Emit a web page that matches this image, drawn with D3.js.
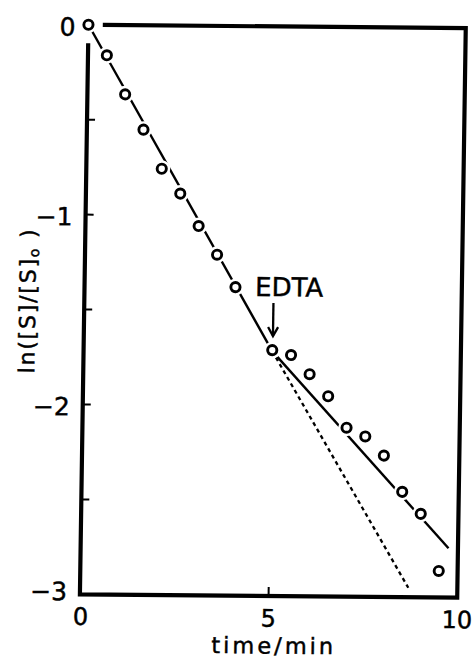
<!DOCTYPE html>
<html>
<head>
<meta charset="utf-8">
<script src="https://cdn.jsdelivr.net/npm/d3@7"></script>
<style>
  html, body { margin: 0; padding: 0; background: #fff; }
  svg { display: block; }
  text { font-family: "DejaVu Sans", sans-serif; fill: #000; stroke: #000; stroke-width: 0.45px; }
</style>
</head>
<body>
<svg id="chart" width="473" height="659"></svg>
<script>
// ---- data ----
const times = [0, 0.5, 1, 1.5, 2, 2.5, 3, 3.5, 4, 5, 5.5, 6, 6.5, 7, 7.5, 8, 8.5, 9, 9.5];
const lnRatio = [0, -0.16, -0.365, -0.55, -0.755, -0.885, -1.055, -1.205, -1.375,
                 -1.705, -1.73, -1.83, -1.945, -2.11, -2.155, -2.255, -2.445, -2.56, -2.86];
const fitBeforeT = [0, 5];
const fitBeforeV = [0, -1.71];
const fitAfterT = [5, 9.75];
const fitAfterV = [-1.71, -2.74];
const extrapT = [5, 8.7];
const extrapV = [-1.71, -2.95];
const xTickValues = [0, 5, 10];
const xInnerTicks = [5];
const yTickValues = [0, -1, -2, -3];
const yInnerTicks = [-0.5, -1, -1.5, -2, -2.5];
const annotationLabel = "EDTA";
const annotationTime = 5;
const annotationValue = -1.71;
const xTitle = "time/min";

// ---- layout ----
const svg = d3.select("#chart");
const x = d3.scaleLinear().domain([0, 10]).range([84.2, 461.5]);
const y = d3.scaleLinear().domain([0, -3]).range([26.4, 596]);

// the scanned original is slightly skewed; reproduce with a small affine transform
const g = svg.append("g").attr("transform", "matrix(1,0.009,-0.015,1,4.65,-2.43)");

const line = d3.line().x(d => x(d[0])).y(d => y(d[1]));
const zip = (a, b) => a.map((v, i) => [v, b[i]]);

// frame (broken at the top-left corner around the first point)
const frame = d3.path();
frame.moveTo(x(0.38), y(0));
frame.lineTo(x(10), y(0));
frame.lineTo(x(10), y(-3));
frame.lineTo(x(0), y(-3));
frame.lineTo(x(0), y(-0.097));
g.append("path").attr("d", frame.toString())
  .attr("fill", "none").attr("stroke", "#000").attr("stroke-width", 4.2)
  .attr("stroke-linejoin", "miter");

// inner ticks
g.selectAll(".ytick").data(yInnerTicks).enter().append("line")
  .attr("x1", x(0)).attr("x2", x(0) + 8)
  .attr("y1", d => y(d)).attr("y2", d => y(d))
  .attr("stroke", "#000").attr("stroke-width", 2);
g.selectAll(".xtick").data(xInnerTicks).enter().append("line")
  .attr("x1", d => x(d)).attr("x2", d => x(d))
  .attr("y1", y(-3)).attr("y2", y(-3) - 9)
  .attr("stroke", "#000").attr("stroke-width", 2);

// tick labels
const fmt = v => (v < 0 ? "\u2212" + Math.abs(v) : String(v));
g.selectAll(".ylab").data(yTickValues).enter().append("text")
  .attr("x", x(0) - 13)
  .attr("y", d => Math.min(y(d) + 2, y(-3) - 3))
  .attr("dy", "0.36em")
  .attr("text-anchor", "end")
  .attr("font-size", 25)
  .text(fmt);
g.selectAll(".xlab").data(xTickValues).enter().append("text")
  .attr("x", d => x(d) + (d === 0 ? 1 : 0))
  .attr("y", y(-3) + 30.5)
  .attr("text-anchor", "middle")
  .attr("font-size", 24)
  .text(fmt);

// axis titles
g.append("text")
  .attr("x", (x(0) + x(10)) / 2 + 6)
  .attr("y", 653.5)
  .attr("text-anchor", "middle")
  .attr("font-size", 22.5)
  .attr("letter-spacing", 3)
  .text(xTitle);

const yt = g.append("text")
  .attr("transform", `translate(${x(0) - 49},${(y(-1.4) + y(-1.5)) / 2 + 1}) rotate(-90)`)
  .attr("text-anchor", "middle")
  .attr("font-size", 22)
  .attr("letter-spacing", 1.8);
yt.append("tspan").text("ln([S]/[S]");
yt.append("tspan").attr("font-size", 14).attr("dy", 3).text("o");
yt.append("tspan").attr("dy", -3).text(" )");

// fitted lines
g.append("path").attr("d", line(zip(fitBeforeT, fitBeforeV)))
  .attr("fill", "none").attr("stroke", "#000").attr("stroke-width", 2.4);
g.append("path").attr("d", line(zip(fitAfterT, fitAfterV)))
  .attr("fill", "none").attr("stroke", "#000").attr("stroke-width", 2.4);
g.append("path").attr("d", line(zip(extrapT, extrapV)))
  .attr("fill", "none").attr("stroke", "#000").attr("stroke-width", 2.3)
  .attr("stroke-dasharray", "4,3.5");

// points: white halo first, then open circles
const pts = zip(times, lnRatio);
g.selectAll(".halo").data(pts).enter().append("circle")
  .attr("cx", d => x(d[0])).attr("cy", d => y(d[1])).attr("r", 8.5)
  .attr("fill", "#fff");
g.selectAll(".pt").data(pts).enter().append("circle")
  .attr("cx", d => x(d[0])).attr("cy", d => y(d[1])).attr("r", 4.6)
  .attr("fill", "#fff").attr("stroke", "#000").attr("stroke-width", 2.9);

// EDTA annotation
const ax = x(annotationTime) + 0.5;
const ay = y(annotationValue);
g.append("line").attr("x1", ax).attr("x2", ax)
  .attr("y1", ay - 48).attr("y2", ay - 15)
  .attr("stroke", "#000").attr("stroke-width", 2.3);
g.append("path")
  .attr("d", `M${ax - 5},${ay - 24} L${ax},${ay - 15} L${ax + 5},${ay - 24}`)
  .attr("fill", "none").attr("stroke", "#000").attr("stroke-width", 2.3);
g.append("text")
  .attr("x", ax - 18.5)
  .attr("y", ay - 55)
  .attr("font-size", 26)
  .text(annotationLabel);
</script>
</body>
</html>
